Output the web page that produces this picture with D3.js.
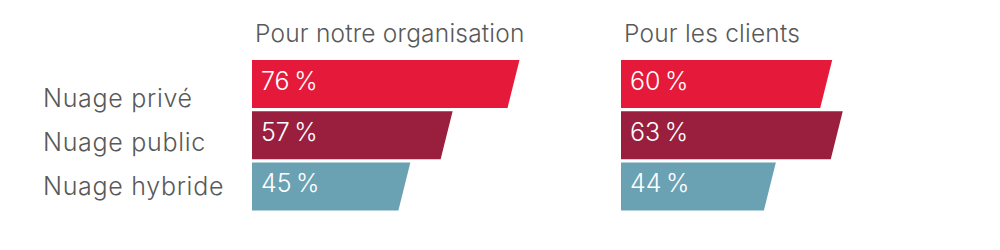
<!DOCTYPE html>
<html>
<head>
<meta charset="utf-8">
<script src="https://cdn.jsdelivr.net/npm/d3@7"></script>
<style>
  body { margin: 0; background: #fff; }
  text { font-family: Inter, "Liberation Sans", Arial, sans-serif; font-weight: 300; }
</style>
</head>
<body>
<svg id="chart"></svg>
<script>
var categories = ['Nuage privé', 'Nuage public', 'Nuage hybride'];
var panels = ['Pour notre organisation', 'Pour les clients'];
var orgValues = [76, 57, 45];
var clientValues = [60, 63, 44];
var colors = ['#e51a3b', '#9a1e3d', '#6aa2b4'];

var width = 1000, height = 250;
var svg = d3.select('#chart')
    .attr('width', width)
    .attr('height', height);

var x = d3.scaleLinear()
    .domain([0, 100])
    .range([0, 352]);

var y = d3.scaleBand()
    .domain(categories)
    .range([60, 210.4])
    .paddingInner(0.0625);

var labelY = d3.scalePoint()
    .domain(categories)
    .range([107, 195]);

var color = d3.scaleOrdinal()
    .domain(categories)
    .range(colors);

var panelX = d3.scaleOrdinal()
    .domain(panels)
    .range([252, 621]);

var slant = 12;

svg.selectAll('.label')
  .data(categories)
  .enter().append('text')
  .attr('class', 'label')
  .attr('x', 43)
  .attr('y', function(d) { return labelY(d); })
  .style('font-size', '25px')
  .style('letter-spacing', '0.7px')
  .style('fill', '#595959')
  .text(function(d) { return d; });

function panel(title, values) {
  var g = svg.append('g')
      .attr('transform', 'translate(' + panelX(title) + ',0)');

  g.append('text')
    .attr('x', 3)
    .attr('y', 42)
    .style('font-size', '24.5px')
    .style('letter-spacing', '0.2px')
    .style('fill', '#595959')
    .text(title);

  var rows = values.map(function(v, i) { return {cat: categories[i], value: v}; });

  g.selectAll('.bar')
    .data(rows)
    .enter().append('path')
    .attr('class', 'bar')
    .attr('d', function(d) {
      var y0 = y(d.cat), y1 = y0 + y.bandwidth(), w = x(d.value);
      return 'M0,' + y0 + 'L' + w + ',' + y0 + 'L' + (w - slant) + ',' + y1 + 'L0,' + y1 + 'Z';
    })
    .style('fill', function(d) { return color(d.cat); });

  g.selectAll('.value')
    .data(rows)
    .enter().append('text')
    .attr('class', 'value')
    .attr('x', 9)
    .attr('y', function(d) { return y(d.cat) + y.bandwidth() / 2 + 6; })
    .style('font-size', '25px')
    .style('fill', '#fff')
    .text(function(d) { return d.value + '\u2009%'; });
}

panel(panels[0], orgValues);
panel(panels[1], clientValues);
</script>
</body>
</html>
